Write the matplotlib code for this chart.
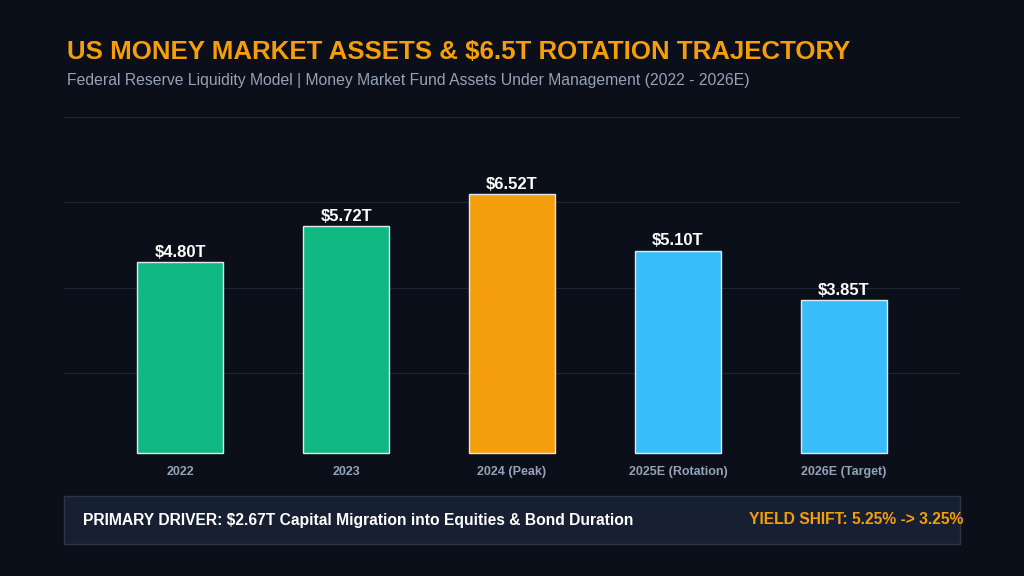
import matplotlib
matplotlib.use("Agg")
import matplotlib.pyplot as plt
import numpy as np
from matplotlib.patches import Rectangle

plt.rcParams['font.family'] = ['Liberation Sans', 'DejaVu Sans']

categories = ["2022", "2023", "2024 (Peak)", "2025E (Rotation)", "2026E (Target)"]
values = [4.80, 5.72, 6.52, 5.10, 3.85]
colors = ["#10b981", "#10b981", "#f59e0b", "#38bdf8", "#38bdf8"]

BG = "#0b0f19"
fig = plt.figure(figsize=(10.24, 5.76), dpi=100, facecolor=BG)
ax = fig.add_axes([64/1024, 1-458/576, 896/1024, (458-117)/576], facecolor=BG)
x = np.arange(len(categories))
ax.bar(x, values, bottom=0.12, width=0.52, color=colors, edgecolor="#e2e8f0", linewidth=1.0, zorder=3)
for xi, v in zip(x, values):
    ax.text(xi, v + 0.12 + 0.06, f"${v:.2f}T", ha="center", va="bottom", color="white",
            fontsize=12, fontweight="bold", zorder=4)
ax.set_xlim(-0.7, 4.7)
ax.set_ylim(0, 8.58)
ax.set_yticks(np.linspace(0, 8.58, 5))
ax.yaxis.grid(True, color="#1e2533", linewidth=0.8, zorder=0)
ax.tick_params(axis="y", left=False, labelleft=False)
ax.tick_params(axis="x", length=0, colors="#94a3b8", pad=6)
ax.set_xticks(x)
ax.set_xticklabels(categories, fontsize=9, fontweight="bold", color="#94a3b8")
for s in ax.spines.values():
    s.set_visible(False)

fig.text(67/1024, 1-52/576, "US MONEY MARKET ASSETS & $6.5T ROTATION TRAJECTORY",
         color="#f59e0b", fontsize=18.6, fontweight="bold", va="center", ha="left")
fig.text(67/1024, 1-81/576, "Federal Reserve Liquidity Model | Money Market Fund Assets Under Management (2022 - 2026E)",
         color="#94a3b8", fontsize=11.3, va="center", ha="left")

fig.patches.append(Rectangle((64/1024, 1-544/576), 896/1024, 48/576, transform=fig.transFigure,
                             facecolor="#172033", edgecolor="#2a3548", linewidth=1))
fig.text(83/1024, 1-520/576, "PRIMARY DRIVER: $2.67T Capital Migration into Equities & Bond Duration",
         color="white", fontsize=11.25, fontweight="bold", va="center", ha="left")
fig.text(963/1024, 1-520/576, "YIELD SHIFT: 5.25% -> 3.25%",
         color="#f59e0b", fontsize=11.25, fontweight="bold", va="center", ha="right")

fig.savefig("out.png", dpi=100, facecolor=BG)
